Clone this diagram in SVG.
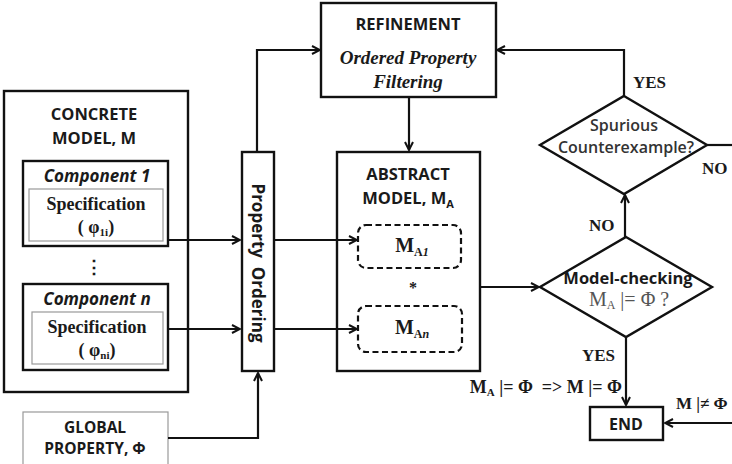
<svg xmlns="http://www.w3.org/2000/svg" width="732" height="464" viewBox="0 0 732 464">
  <defs>
    <marker id="arrow" viewBox="0 0 10 10" refX="9" refY="5" markerWidth="10" markerHeight="10" markerUnits="userSpaceOnUse" orient="auto">
      <path d="M1,1 L9,5 L1,9" fill="none" stroke="#111" stroke-width="2"/>
    </marker>
    <style>
      .box { fill: #fff; stroke: #111; stroke-width: 2.4; }
      .thin { fill: #fff; stroke: #999; stroke-width: 1.2; }
      .dash { fill: #fff; stroke: #111; stroke-width: 2.2; stroke-dasharray: 6 3.5; }
      .edge { fill: none; stroke: #111; stroke-width: 2.2; }
      .sb { font-family: "Open Sans", "Liberation Sans", sans-serif; font-weight: bold; fill: #1a1a1a; }
      .sr { font-family: "Open Sans", "Liberation Sans", sans-serif; font-weight: 600; fill: #333; }
      .tb { font-family: "Liberation Serif", "Times New Roman", serif; font-weight: bold; fill: #1a1a1a; }
      .tr { font-family: "Liberation Serif", "Times New Roman", serif; fill: #555; }
      .mid { text-anchor: middle; }
    </style>
  </defs>

  <!-- concrete model -->
  <g id="concrete-model">
    <rect class="box" x="4" y="91" width="184" height="301"/>
    <text class="sb mid" x="94" y="120" font-size="16.5">CONCRETE</text>
    <text class="sb mid" x="94" y="144" font-size="16.5">MODEL, M</text>
    <text class="tb mid" x="94" y="273" font-size="18">⋮</text>
  </g>

  <g id="component-1">
    <rect class="box" x="23" y="161" width="145" height="85"/>
    <text class="sb mid" x="97" y="182" font-size="17" font-style="italic">Component 1</text>
    <rect class="thin" x="29" y="189" width="134" height="52"/>
    <text class="tb mid" x="96" y="210" font-size="18">Specification</text>
    <text class="tb mid" x="96" y="233" font-size="18">( φ<tspan font-size="11" dy="3">1i</tspan><tspan dy="-3">)</tspan></text>
  </g>

  <g id="component-n">
    <rect class="box" x="23" y="284" width="145" height="86"/>
    <text class="sb mid" x="97" y="305" font-size="17" font-style="italic">Component n</text>
    <rect class="thin" x="32" y="312" width="131" height="52"/>
    <text class="tb mid" x="97" y="333" font-size="18">Specification</text>
    <text class="tb mid" x="97" y="356" font-size="18">( φ<tspan font-size="11" dy="3">ni</tspan><tspan dy="-3">)</tspan></text>
  </g>

  <g id="global-property">
    <rect class="thin" x="23" y="412" width="145" height="56"/>
    <text class="sb mid" x="95" y="433" font-size="15.5">GLOBAL</text>
    <text class="sb mid" x="95" y="454" font-size="15.5">PROPERTY, Φ</text>
  </g>

  <g id="property-ordering">
    <rect class="box" x="242" y="152" width="32" height="219"/>
    <text class="sb mid" transform="translate(252,263) rotate(90)" font-size="17" xml:space="preserve">Property  Ordering</text>
  </g>

  <g id="refinement">
    <rect class="box" x="321" y="3" width="175" height="94"/>
    <text class="sb mid" x="408" y="30" font-size="16.5">REFINEMENT</text>
    <text class="tb mid" x="408" y="64" font-size="19" font-style="italic">Ordered Property</text>
    <text class="tb mid" x="408" y="88" font-size="19" font-style="italic">Filtering</text>
  </g>

  <g id="abstract-model">
    <rect class="box" x="337" y="152" width="143" height="219"/>
    <text class="sb mid" x="408" y="180" font-size="16.5">ABSTRACT</text>
    <text class="sb mid" x="408" y="204" font-size="16.5">MODEL, M<tspan font-size="11" dy="4">A</tspan></text>
    <text class="tb mid" x="413" y="293" font-size="16">*</text>
  </g>

  <g id="abstract-part-1">
    <rect class="dash" x="358" y="225" width="103" height="43" rx="8"/>
    <text class="tb mid" x="412" y="252" font-size="20">M<tspan font-size="12" dy="4">A<tspan font-style="italic">1</tspan></tspan></text>
  </g>

  <g id="abstract-part-n">
    <rect class="dash" x="358" y="306" width="104" height="46" rx="8"/>
    <text class="tb mid" x="412" y="334" font-size="20">M<tspan font-size="12" dy="4">A<tspan font-style="italic">n</tspan></tspan></text>
  </g>

  <g id="spurious-check">
    <polygon class="box" points="624,96 707,145 624,194 540,145"/>
    <text class="sr mid" x="624" y="131" font-size="16">Spurious</text>
    <text class="sr mid" x="626" y="153" font-size="16">Counterexample?</text>
  </g>

  <g id="model-checking">
    <polygon class="box" points="626,237 712,287 626,337 540,287"/>
    <text class="sb mid" x="628" y="284" font-size="16.5">Model-checking</text>
    <text class="tr mid" x="629" y="306" font-size="20">M<tspan font-size="12" dy="3">A</tspan><tspan dy="-3"> |= Φ ?</tspan></text>
  </g>

  <g id="end">
    <rect class="box" x="590" y="407" width="73" height="33"/>
    <text class="sb mid" x="626" y="430" font-size="16">END</text>
  </g>

  <!-- connectors, drawn over the boxes they cross -->
  <g id="connectors">
    <path class="edge" d="M168,240 H240" marker-end="url(#arrow)"/>
    <path class="edge" d="M168,329 H240" marker-end="url(#arrow)"/>
    <path class="edge" d="M168,438 H258 V373" marker-end="url(#arrow)"/>
    <path class="edge" d="M257,152 V50 H320" marker-end="url(#arrow)"/>
    <path class="edge" d="M274,240 H357" marker-end="url(#arrow)"/>
    <path class="edge" d="M274,329 H357" marker-end="url(#arrow)"/>
    <path class="edge" d="M409,97 V150" marker-end="url(#arrow)"/>
    <path class="edge" d="M480,287 H539" marker-end="url(#arrow)"/>
    <path class="edge" d="M624,96 V50 H497" marker-end="url(#arrow)"/>
    <path class="edge" d="M625,237 V195" marker-end="url(#arrow)"/>
    <path class="edge" d="M707,145 H732"/>
    <path class="edge" d="M626,337 V405" marker-end="url(#arrow)"/>
    <path class="edge" d="M732,423 H665" marker-end="url(#arrow)"/>
  </g>

  <!-- branch labels -->
  <g id="labels">
    <text class="tb" x="633" y="88" font-size="17">YES</text>
    <text class="tb" x="702" y="174" font-size="17">NO</text>
    <text class="tb" x="589" y="231" font-size="17">NO</text>
    <text class="tb" x="582" y="361" font-size="17">YES</text>
    <text class="tb" x="622" y="393" font-size="18" text-anchor="end">M<tspan font-size="11" dy="3">A</tspan><tspan dy="-3" xml:space="preserve"> |= Φ  =&gt; M |= Φ</tspan></text>
    <text class="tb" x="676" y="409" font-size="17">M |≠ Φ</text>
  </g>
</svg>
